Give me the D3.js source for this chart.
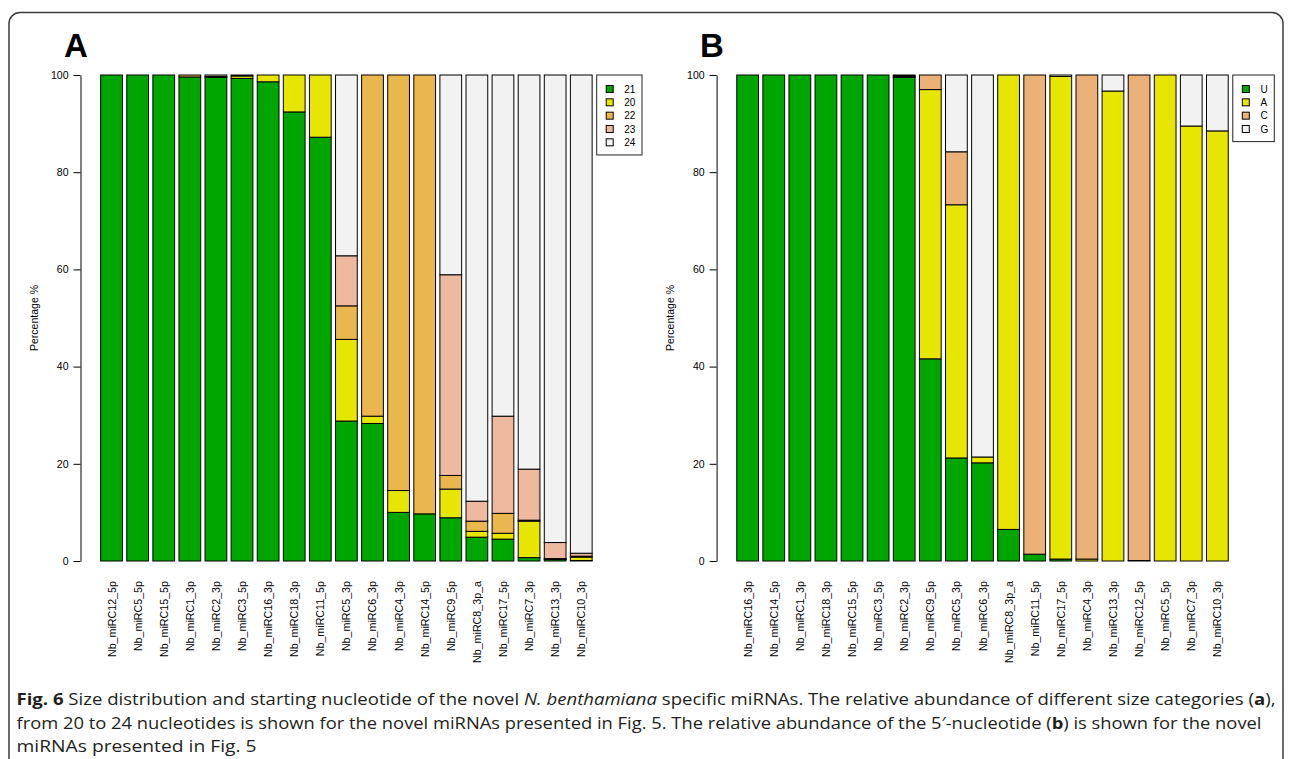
<!DOCTYPE html>
<html>
<head>
<meta charset="utf-8">
<script src="https://cdnjs.cloudflare.com/ajax/libs/d3/7.8.5/d3.min.js"></script>
<style>
  body { margin: 0; background: #fff; }
  svg { display: block; }
  .axis text { font-family: "Liberation Sans", Arial, sans-serif; font-size: 10.5px; fill: #000; }
  .axis path, .axis line { stroke: #000; stroke-width: 1; }
</style>
</head>
<body>
<div id="chart"></div>
<script>
// Panel A: size distribution (nt)
var namesA = ['Nb_miRC12_5p', 'Nb_miRC5_5p', 'Nb_miRC15_5p', 'Nb_miRC1_3p', 'Nb_miRC2_3p', 'Nb_miRC3_5p',
	'Nb_miRC16_3p', 'Nb_miRC18_3p', 'Nb_miRC11_5p', 'Nb_miRC5_3p', 'Nb_miRC6_3p', 'Nb_miRC4_3p',
	'Nb_miRC14_5p', 'Nb_miRC9_5p', 'Nb_miRC8_3p_a', 'Nb_miRC17_5p', 'Nb_miRC7_3p', 'Nb_miRC13_3p', 'Nb_miRC10_3p'];
var sizeKeys = ['21', '20', '22', '23', '24'];
var size21 = [100, 100, 100, 99.6, 99.5, 99.3, 98.6, 92.4, 87.2, 28.8, 28.3, 10.0, 9.7, 8.9, 4.9, 4.5, 0.7, 0.3, 0.1];
var size20 = [0, 0, 0, 0, 0, 0.5, 1.4, 7.6, 12.8, 16.8, 1.5, 4.5, 0, 5.9, 1.2, 1.2, 7.5, 0.1, 0.7];
var size22 = [0, 0, 0, 0.4, 0.2, 0.2, 0, 0, 0, 6.9, 70.2, 85.5, 90.3, 2.8, 2.1, 4.1, 0.2, 0.1, 0.2];
var size23 = [0, 0, 0, 0, 0.3, 0, 0, 0, 0, 10.3, 0, 0, 0, 41.3, 4.1, 20.0, 10.5, 3.3, 0.6];
var size24 = [0, 0, 0, 0, 0, 0, 0, 0, 0, 37.2, 0, 0, 0, 41.1, 87.7, 70.2, 81.1, 96.2, 98.4];

// Panel B: 5' nucleotide
var namesB = ['Nb_miRC16_3p', 'Nb_miRC14_5p', 'Nb_miRC1_3p', 'Nb_miRC18_3p', 'Nb_miRC15_5p', 'Nb_miRC3_5p',
	'Nb_miRC2_3p', 'Nb_miRC9_5p', 'Nb_miRC5_3p', 'Nb_miRC6_3p', 'Nb_miRC8_3p_a', 'Nb_miRC11_5p',
	'Nb_miRC17_5p', 'Nb_miRC4_3p', 'Nb_miRC13_3p', 'Nb_miRC12_5p', 'Nb_miRC5_5p', 'Nb_miRC7_3p', 'Nb_miRC10_3p'];
var ntKeys = ['U', 'A', 'C', 'G'];
var ntU = [100, 100, 100, 100, 100, 100, 99.5, 41.6, 21.2, 20.2, 6.5, 1.4, 0.4, 0, 0, 0, 0, 0, 0];
var ntA = [0, 0, 0, 0, 0, 0, 0.2, 55.4, 52.1, 1.2, 93.5, 0, 99.3, 0.4, 96.7, 0.1, 100, 89.5, 88.5];
var ntC = [0, 0, 0, 0, 0, 0, 0.1, 3.0, 10.9, 0, 0, 98.6, 0, 99.6, 0, 99.9, 0, 0, 0];
var ntG = [0, 0, 0, 0, 0, 0, 0.2, 0, 15.8, 78.6, 0, 0, 0.3, 0, 3.3, 0, 0, 10.5, 11.5];

var yTicks = [0, 20, 40, 60, 80, 100];
var colorsA = ['#00A600', '#E6E600', '#EAB64E', '#EEB99F', '#F2F2F2'];
var colorsB = ['#00A600', '#E6E600', '#ECB176', '#F2F2F2'];

var total_width = 1292;
var total_height = 759;
var panel_shift = 636.1;
var font = '"Liberation Sans", Arial, sans-serif';

var svg = d3.select('#chart')
	.append('svg')
	.attr('width', total_width)
	.attr('height', total_height);

// Rounded frame round the figure (bottom runs off the page)
svg.append('rect')
	.attr('x', 9)
	.attr('y', 12.5)
	.attr('width', 1274)
	.attr('height', 780)
	.attr('rx', 11)
	.attr('fill', 'none')
	.attr('stroke', '#3a3a3a')
	.attr('stroke-width', 1.5);

var y_scale = d3.scaleLinear().domain([0, 100]).range([561, 75]);

function buildTable(names, keys, series) {
	return names.map(function(n, i) {
		var row = { name: n };
		keys.forEach(function(k, j) { row[k] = series[j][i]; });
		return row;
	});
}

function drawPanel(offset, letter, names, keys, series, colors) {
	var g = svg.append('g').attr('transform', 'translate(' + offset + ',0)');
	var table = buildTable(names, keys, series);
	var stacked = d3.stack().keys(keys)(table);

	var x_scale = d3.scaleBand()
		.domain(names)
		.range([98.5, 594.3])
		.paddingInner(1 / 6)
		.paddingOuter(1 / 12);

	// Panel letter
	g.append('text')
		.attr('x', 64)
		.attr('y', 57)
		.attr('font-family', font)
		.attr('font-weight', 'bold')
		.attr('font-size', '33px')
		.text(letter);

	// Stacked bars
	g.selectAll('.layer')
		.data(stacked)
		.enter()
		.append('g')
		.attr('class', 'layer')
		.attr('fill', function(d, i) { return colors[i]; })
		.selectAll('rect')
		.data(function(d) { return d; })
		.enter()
		.append('rect')
		.attr('x', function(d) { return x_scale(d.data.name); })
		.attr('y', function(d) { return y_scale(d[1]); })
		.attr('width', x_scale.bandwidth())
		.attr('height', function(d) { return y_scale(d[0]) - y_scale(d[1]); })
		.attr('stroke', '#000')
		.attr('stroke-width', 1);

	// Y-Axis
	g.append('g')
		.attr('class', 'axis')
		.attr('transform', 'translate(80.5,0)')
		.call(d3.axisLeft(y_scale).tickValues(yTicks).tickSize(7).tickSizeOuter(0).tickPadding(5));

	g.append('text')
		.attr('transform', 'translate(38,318) rotate(-90)')
		.attr('text-anchor', 'middle')
		.attr('font-family', font)
		.attr('font-size', '10.5px')
		.text('Percentage %');

	// Rotated bar names
	g.selectAll('.barname')
		.data(names)
		.enter()
		.append('text')
		.attr('class', 'barname')
		.attr('transform', function(d) {
			return 'translate(' + (x_scale(d) + x_scale.bandwidth() / 2 + 4) + ',581) rotate(-90)';
		})
		.attr('text-anchor', 'end')
		.attr('font-family', font)
		.attr('font-size', '10.7px')
		.text(function(d) { return d; });

	// Legend
	var lx = 596.7;
	var ly = y_scale(100);
	var lw = letter == 'A' ? 45.3 : 41.5;
	g.append('rect')
		.attr('x', lx)
		.attr('y', ly)
		.attr('width', lw)
		.attr('height', keys.length * 13.33 + 13.3)
		.attr('fill', '#fff')
		.attr('stroke', '#222')
		.attr('stroke-width', 1);
	var items = g.selectAll('.legitem')
		.data(keys)
		.enter()
		.append('g')
		.attr('class', 'legitem')
		.attr('transform', function(d, i) { return 'translate(' + lx + ',' + (ly + 14 + i * 13.33) + ')'; });
	items.append('rect')
		.attr('x', 9.5)
		.attr('y', -3.5)
		.attr('width', 7)
		.attr('height', 7)
		.attr('fill', function(d, i) { return colors[i]; })
		.attr('stroke', '#000')
		.attr('stroke-width', 1);
	items.append('text')
		.attr('x', 27.6)
		.attr('y', 3.6)
		.attr('font-family', font)
		.attr('font-size', '10px')
		.text(function(d) { return d; });
}

drawPanel(0, 'A', namesA, sizeKeys, [size21, size20, size22, size23, size24], colorsA);
drawPanel(panel_shift, 'B', namesB, ntKeys, [ntU, ntA, ntC, ntG], colorsB);

// Figure caption
var capFont = '"Open Sans", "Noto Sans", sans-serif';
var capColor = '#231F20';
var cap1 = svg.append('text')
	.attr('x', 16.5).attr('y', 705)
	.attr('font-family', capFont).attr('font-size', '15.5px').attr('fill', capColor)
	.attr('textLength', 1259).attr('lengthAdjust', 'spacingAndGlyphs');
cap1.append('tspan').attr('font-weight', 'bold').text('Fig. 6');
cap1.append('tspan').text(' Size distribution and starting nucleotide of the novel ');
cap1.append('tspan').attr('font-style', 'italic').text('N. benthamiana');
cap1.append('tspan').text(' specific miRNAs. The relative abundance of different size categories (');
cap1.append('tspan').attr('font-weight', 'bold').text('a');
cap1.append('tspan').text('),');

var cap2 = svg.append('text')
	.attr('x', 16.5).attr('y', 729)
	.attr('font-family', capFont).attr('font-size', '15.5px').attr('fill', capColor)
	.attr('textLength', 1245).attr('lengthAdjust', 'spacingAndGlyphs');
cap2.append('tspan').text('from 20 to 24 nucleotides is shown for the novel miRNAs presented in Fig. 5. The relative abundance of the 5\u2032-nucleotide (');
cap2.append('tspan').attr('font-weight', 'bold').text('b');
cap2.append('tspan').text(') is shown for the novel');

svg.append('text')
	.attr('x', 16.5).attr('y', 752)
	.attr('font-family', capFont).attr('font-size', '15.5px').attr('fill', capColor)
	.attr('textLength', 240).attr('lengthAdjust', 'spacingAndGlyphs')
	.text('miRNAs presented in Fig. 5');
</script>
</body>
</html>
